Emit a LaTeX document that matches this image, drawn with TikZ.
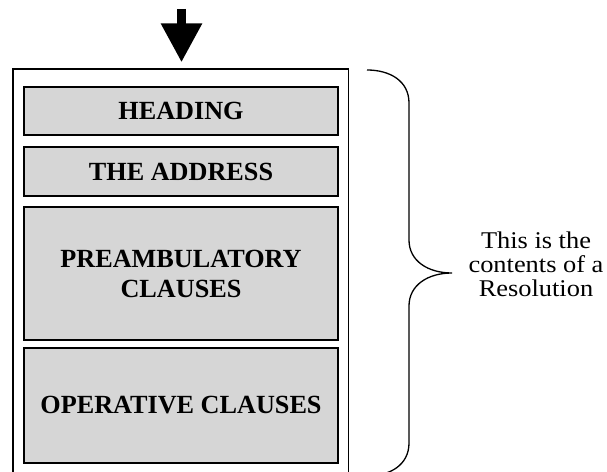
\documentclass[tikz,border=0pt]{standalone}
\usepackage{fontspec}
\setmainfont{Liberation Serif}
\newfontfamily\notefont[FakeStretch=1.1]{Liberation Serif}
\usetikzlibrary{arrows.meta}
\definecolor{boxgray}{RGB}{214,214,214}
\tikzset{
  partbox/.style={draw=black, line width=2pt, fill=boxgray, inner sep=0pt,
    minimum width=314pt, align=center,
    font=\fontsize{26.2}{30}\selectfont\bfseries},
  outerbox/.style={draw=black, line width=1.3pt, inner sep=0pt,
    minimum width=335.5pt, minimum height=404pt},
  bracestyle/.style={draw=black, line width=1.3pt},
  notetext/.style={align=center, inner sep=0pt, font=\notefont\fontsize{24}{24}\selectfont}
}
\begin{document}
\begin{tikzpicture}[x=1pt,y=1pt]
\useasboundingbox (0,0) rectangle (607,471);
\node[outerbox] (outer) at (180.75,200) {};
\node[partbox, minimum height=48pt] (head) at (181,360) {HEADING};
\node[partbox, minimum height=49pt] (addr) at (181,299.5) {THE ADDRESS};
\node[partbox, minimum height=133pt] (pre) at (181,197.5) {PREAMBULATORY\\CLAUSES};
\node[partbox, minimum height=115pt] (oper) at (181,65.5) {OPERATIVE CLAUSES};
\coordinate (arrstart) at (181.5,462);
\draw[line width=9pt, -{Triangle[width=39pt,length=39pt]}, shorten >=6pt] (arrstart) -- (outer.north -| arrstart);
\draw[bracestyle] (367,401) .. controls (390,401) and (409,390) .. (409,368)
  -- (409,231) .. controls (409,210) and (428,198) .. (452,198)
  .. controls (428,198) and (409,186) .. (409,165)
  -- (409,28) .. controls (409,6) and (390,-5) .. (367,-5);
\node[notetext] (note) at (536,207) {This is the\\contents of a\\Resolution};
\end{tikzpicture}
\end{document}
